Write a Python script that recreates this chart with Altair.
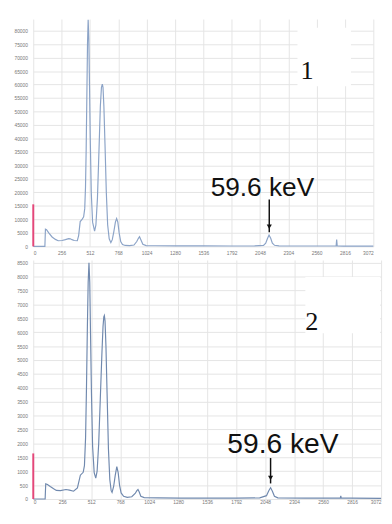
import altair as alt
import pandas as pd

# ---- Panel 1 spectrum (channel, counts) ----
ch1 = [0, 105, 110, 120, 140, 170, 200, 225, 260, 290, 320, 335, 350, 370, 398, 410, 424, 441, 455, 465,
       472, 478, 484, 490, 496, 502, 508, 515, 524, 536, 554, 566, 580, 594, 606, 616, 624, 630, 638, 648, 660,
       672, 686, 701, 714, 728, 742, 753, 764, 776, 790, 806, 831, 870, 910, 935, 950, 960, 972, 990, 1020,
       1100, 1300, 1536, 1792, 2000, 2080, 2100, 2115, 2130, 2145, 2160, 2180, 2220, 2400, 2700, 2736, 2741,
       2746, 2800, 3072]
cnt1 = [0, 0, 6400, 6200, 5000, 3500, 2600, 2100, 2200, 2500, 2850, 2800, 2500, 2200, 2100, 4000, 9200, 10000,
        11000, 14000, 22000, 36000, 55000, 75000, 84000, 77000, 60000, 40000, 20000, 9000, 5700, 8000, 18000,
        36000, 52000, 59000, 60200, 59000, 52000, 38000, 20000, 8000, 2800, 1400, 2500, 5500, 9000, 10300, 9000,
        5000, 1800, 700, 350, 300, 500, 1800, 3000, 3600, 2500, 800, 300, 250, 200, 180, 160, 180, 400, 1200,
        2800, 4200, 3000, 1200, 400, 200, 150, 150, 150, 2500, 150, 130, 100]

# ---- Panel 2 spectrum (channel, counts) ----
ch2 = [0, 105, 110, 125, 150, 180, 204, 240, 289, 320, 356, 390, 416, 441, 452, 462, 470, 478, 485, 492, 499,
       506, 514, 524, 538, 552, 564, 578, 592, 606, 616, 623, 628, 634, 642, 652, 664, 676, 688, 696, 710,
       724, 738, 750, 762, 776, 798, 830, 870, 900, 915, 925, 936, 950, 980, 1100, 1300, 1536, 1792, 2000,
       2060, 2080, 2096, 2112, 2130, 2160, 2400, 2700, 2712, 2716, 2720, 2800, 3072]
cnt2 = [0, 0, 548, 520, 450, 370, 310, 300, 343, 320, 280, 400, 857, 960, 1200, 2200, 4000, 6200, 7800, 8500,
        7800, 5900, 3800, 1900, 950, 754, 1000, 2000, 3600, 5200, 6200, 6550, 6600, 6400, 5500, 3800, 1800,
        700, 300, 240, 450, 850, 1165, 950, 500, 220, 100, 60, 80, 200, 300, 340, 250, 100, 50, 40, 30, 30,
        30, 40, 120, 300, 410, 280, 100, 40, 30, 30, 30, 110, 30, 30, 25]

x_ticks = [0, 256, 512, 768, 1024, 1280, 1536, 1792, 2048, 2304, 2560, 2816, 3072]
y_ticks1 = list(range(0, 80001, 5000))
y_ticks2 = list(range(0, 8501, 500))

marker_h1 = 15600
marker_h2 = 1640
label_text = "59.6 keV"

LINE1 = "#8ba3c7"
LINE2 = "#7089ae"
PINK = "#e4477a"
GRID = "#e4e4e4"

one = pd.DataFrame({"k": [0]})


def panel(ch, cnt, ydom, yticks, width, height, yext, xext, xpad, marker_h, line_color,
          txt_pos, arrow, box, num, num_pos, fsize):
    df = pd.DataFrame({"ch": ch, "cnt": cnt})
    xs = alt.Scale(domain=[0, 3072], nice=False, zero=False)
    ys = alt.Scale(domain=ydom, nice=False)
    xax = alt.Axis(values=x_ticks, grid=True, gridColor=GRID, ticks=False, domain=False,
                   labelFontSize=5, labelColor="#777", labelPadding=xpad, title=None, format="d",
                   labelOverlap=False, labelFlush=True, tickCount=13,
                   minExtent=xext, maxExtent=xext, labelFont="Liberation Sans")
    yax = alt.Axis(values=yticks, grid=True, gridColor=GRID, ticks=False, domain=False,
                   labelFontSize=5, labelColor="#777", labelPadding=6, title=None, format="d",
                   labelOverlap=False, labelFlush=False, tickCount=len(yticks),
                   minExtent=yext, maxExtent=yext, labelFont="Liberation Sans")

    def X(v):
        return alt.XDatum(v, scale=xs, axis=xax)

    def Y(v):
        return alt.YDatum(v, scale=ys, axis=yax)

    base = alt.Chart(df).mark_line(color=line_color, strokeWidth=1.2).encode(
        x=alt.X("ch:Q", scale=xs, axis=xax),
        y=alt.Y("cnt:Q", scale=ys, axis=yax),
    )
    box_l = alt.Chart(one).mark_rect(color="white").encode(
        x=X(box[0]), x2=alt.datum(box[1]), y=Y(box[2]), y2=alt.datum(box[3]))
    marker = alt.Chart(one).mark_rule(color=PINK, strokeWidth=2).encode(
        x=X(0), y=Y(0), y2=alt.datum(marker_h))
    txt = alt.Chart(one).mark_text(text=label_text, font="Liberation Sans", fontSize=fsize,
                                   color="#111", align="center", baseline="alphabetic").encode(
        x=X(txt_pos[0]), y=Y(txt_pos[1]))
    arr = alt.Chart(one).mark_rule(color="#111", strokeWidth=1.5).encode(
        x=X(arrow[0]), y=Y(arrow[1]), y2=alt.datum(arrow[2]))
    head = alt.Chart(one).mark_point(shape="triangle-down", filled=True, color="#111", size=28,
                                     opacity=1).encode(
        x=X(arrow[0]), y=Y(arrow[3]))
    numt = alt.Chart(one).mark_text(text=num, font="Liberation Serif", fontSize=27, color="#111",
                                    align="left", baseline="alphabetic").encode(
        x=X(num_pos[0]), y=Y(num_pos[1]))
    return alt.layer(box_l, base, marker, txt, arr, head, numt).properties(width=width, height=height)


p1 = panel(ch1, cnt1, [0, 84300], y_ticks1, 350, 234, 26, 14, 4, marker_h1, LINE1,
           (2070, 18850), (2132, 17400, 5200, 7300), (2387, 2870, 59400, 81100), "1", (2414, 61900), 27)
p2 = panel(ch2, cnt2, [0, 8600], y_ticks2, 358, 246, 18, 6, 1, marker_h2, LINE2,
           (2205, 1645), (2096, 1474, 560, 760), (2403, 3063, 5964, 7986), "2", (2403, 6067), 29)

chart = alt.vconcat(p1, p2, spacing=0).properties(
    padding={"top": 2, "left": 0, "right": 0, "bottom": 0}
).configure_view(stroke=None)

chart.save("out.html", embed_options={"renderer": "svg", "actions": False})
